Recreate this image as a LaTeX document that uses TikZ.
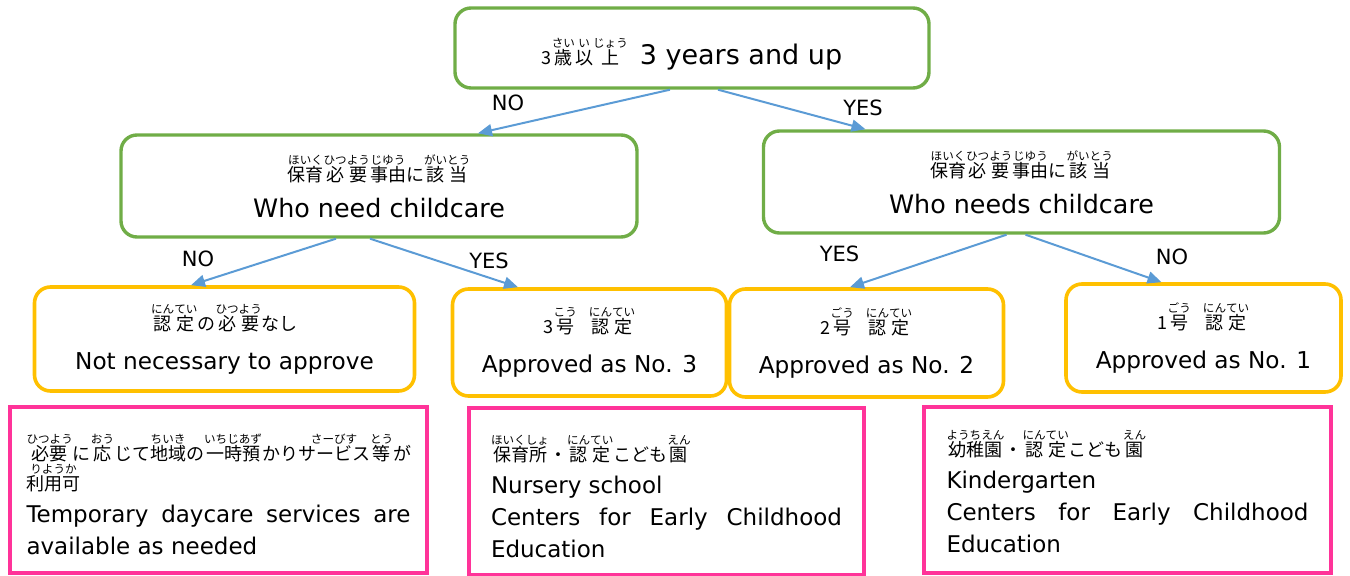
\documentclass[tikz,border=0pt]{standalone}
\usepackage{fontspec}
\setmainfont{DejaVu Sans}
\newfontfamily\jp{Noto Sans CJK JP}
\usetikzlibrary{arrows.meta}
\hyphenpenalty=10000
\exhyphenpenalty=10000

\definecolor{qgreen}{HTML}{70AD47}
\definecolor{ayellow}{HTML}{FFC000}
\definecolor{fpink}{HTML}{FF3399}
\definecolor{arrblue}{HTML}{5B9BD5}

\newcommand\rubyfont{\jp\fontsize{5.8}{6}\selectfont}
\newcommand\jtext{\jp\fontsize{9}{16}\selectfont}
\newcommand\furi[2]{\leavevmode\setbox0\hbox{#1}\setbox2\hbox{\rubyfont #2}%
  \dimen0=\ifdim\wd0>\wd2 \wd0\else\wd2\fi\relax
  \hbox to\dimen0{\hss\copy0\hss}%
  \llap{\hbox to\dimen0{\hss\raise8.5pt\copy2\hss}}}

\tikzset{
  qbox/.style={draw=qgreen, line width=1.7pt, rounded corners=8pt, align=center, inner sep=0pt},
  abox/.style={draw=ayellow, line width=1.8pt, rounded corners=8pt, align=center, inner sep=0pt,
    font=\fontsize{11.6}{16}\selectfont},
  fbox/.style={draw=fpink, line width=2pt, align=justify, inner sep=0pt,
    font=\fontsize{11.5}{16}\selectfont},
  arr/.style={draw=arrblue, line width=1pt, -{Triangle[length=7pt,width=6pt]}},
  lbl/.style={font=\fontsize{10.5}{12}\selectfont}
}

\begin{document}
\begin{tikzpicture}[x=0.5pt,y=-0.5pt]
\useasboundingbox (0,0) rectangle (1350,576);

% question boxes
\node[qbox, minimum width=237pt, minimum height=40pt] (age) at (692,48)
  {\rule{0pt}{19.5pt}{\jtext 3\furi{歳}{さい}\furi{以}{い}\furi{上}{じょう}}\hspace{6pt}{\fontsize{13.5}{16}\selectfont 3 years and up}};
\node[qbox, minimum width=258pt, minimum height=51pt, font=\fontsize{12.7}{17}\selectfont] (needL) at (379,186)
  {{\jtext\furi{保育}{ほいく}\furi{必}{ひつ}\furi{要}{よう}\furi{事由}{じゆう}に\furi{該}{がい}\furi{当}{とう}}\\[1pt] Who need childcare};
\node[qbox, minimum width=258pt, minimum height=51pt, font=\fontsize{12.7}{17}\selectfont] (needR) at (1021.5,182)
  {{\jtext\furi{保育}{ほいく}\furi{必}{ひつ}\furi{要}{よう}\furi{事由}{じゆう}に\furi{該}{がい}\furi{当}{とう}}\\[1pt] Who needs childcare};

% answer boxes
\node[abox, minimum width=190pt, minimum height=52pt] (notreq) at (224.5,339)
  {{\jtext\furi{認}{にん}\furi{定}{てい}の\furi{必}{ひつ}\furi{要}{よう}なし}\\[3.5pt] Not necessary to approve};
\node[abox, minimum width=137pt, minimum height=53.5pt] (no3) at (589.5,342.5)
  {{\jtext 3\furi{号}{こう}\hspace{6pt}\furi{認}{にん}\furi{定}{てい}}\\[3.5pt] Approved as No. 3};
\node[abox, minimum width=137pt, minimum height=54pt] (no2) at (866.5,343)
  {{\jtext 2\furi{号}{ごう}\hspace{6pt}\furi{認}{にん}\furi{定}{てい}}\\[3.5pt] Approved as No. 2};
\node[abox, minimum width=137.5pt, minimum height=54pt] (no1) at (1203.5,338)
  {{\jtext 1\furi{号}{ごう}\hspace{6pt}\furi{認}{にん}\furi{定}{てい}}\\[3.5pt] Approved as No. 1};

% facility boxes
\node[fbox, text width=192pt, minimum width=208.5pt, minimum height=83pt] (tempcare) at (218.5,490)
  {\rule{0pt}{17.5pt}{\jtext\furi{必要}{ひつよう}に\furi{応}{おう}じて\furi{地域}{ちいき}の\furi{一時預}{いちじあず}かり\furi{サービス}{さーびす}\furi{等}{とう}が}\\[-1pt]
   {\jtext\furi{利用可}{りようか}}\\
   Temporary daycare services are available as needed};
\node[fbox, text width=175.5pt, minimum width=197.5pt, minimum height=83.5pt] (nursery) at (666.5,491.5)
  {\rule{0pt}{18.5pt}{\jtext\furi{保育所}{ほいくしょ}・\furi{認}{にん}\furi{定}{てい}こども\furi{園}{えん}}\\
   Nursery school\\
   Centers for Early Childhood Education};
\node[fbox, text width=181pt, minimum width=203.5pt, minimum height=83pt] (kinder) at (1127.5,490)
  {\rule{0pt}{14.5pt}{\jtext\furi{幼稚園}{ようちえん}・\furi{認}{にん}\furi{定}{てい}こども\furi{園}{えん}}\\
   Kindergarten\\
   Centers for Early Childhood Education};

% arrows
\draw[arr] ([xshift=-11pt]age.south) -- ([xshift=49.5pt]needL.north);
\draw[arr] ([xshift=13pt]age.south) -- ([xshift=-78pt]needR.north);
\draw[arr] ([xshift=-21.5pt]needL.south) -- ([xshift=-16.75pt]notreq.north);
\draw[arr] ([xshift=-4.5pt]needL.south) -- ([xshift=-35.75pt]no3.north);
\draw[arr] ([xshift=-7.5pt]needR.south) -- ([xshift=-8.25pt]no2.north);
\draw[arr] ([xshift=2pt]needR.south) -- ([xshift=-21pt]no1.north);

% labels
\node[lbl] (noAge) at (508,103) {NO};
\node[lbl] (yesAge) at (863,108) {YES};
\node[lbl] (noNeedL) at (198,259) {NO};
\node[lbl] (yesNeedL) at (489,261) {YES};
\node[lbl] (yesNeedR) at (839.5,254) {YES};
\node[lbl] (noNeedR) at (1172,257) {NO};

\end{tikzpicture}
\end{document}
